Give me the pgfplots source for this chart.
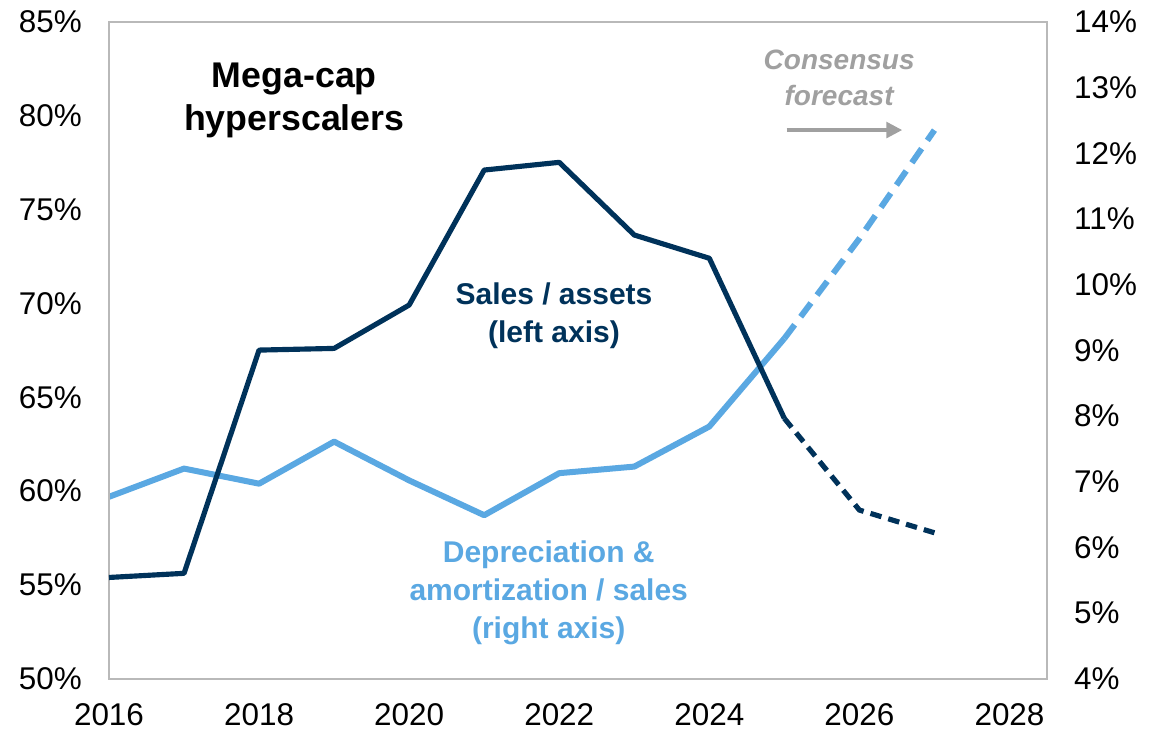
\documentclass[border=0pt]{standalone}
\usepackage{fontspec}
\setmainfont{Liberation Sans}
\usepackage{pgfplots}
\pgfplotsset{compat=1.18}
\usetikzlibrary{arrows.meta}
\definecolor{navy}{RGB}{0,50,90}
\definecolor{sky}{RGB}{90,168,226}
\definecolor{fcgray}{RGB}{160,160,160}
\definecolor{framegray}{RGB}{185,185,185}

\begin{document}
\begin{tikzpicture}
\pgfplotsset{
  base/.style={
    scale only axis, width=328.3pt, height=230pt,
    xmin=2016, xmax=2028.5,
    tick style={draw=none},
    tick label style={font=\fontsize{11}{12}\selectfont},
    /pgf/number format/assume math mode=true,
    /pgf/number format/1000 sep={},
  }
}
% D&A / sales, right axis
\begin{axis}[base, name=rt,
    axis x line=none, axis y line*=right,
    y axis line style={draw=none},
    ymin=4, ymax=14, ytick={4,5,...,14},
    yticklabel={\pgfmathprintnumber{\tick}\%},
    yticklabel style={xshift=6pt}]
\addplot[sky, line width=2.1pt, line join=round] coordinates {
  (2016,6.77) (2017,7.20) (2018,6.97) (2019,7.61) (2020,7.02)
  (2021,6.49) (2022,7.13) (2023,7.23) (2024,7.84) (2025,9.18)};
\addplot[sky, line width=2.1pt, dash pattern=on 6pt off 3.5pt] coordinates {
  (2025,9.18) (2026,10.70) (2027,12.35)};
\end{axis}
% sales / assets, left axis
\begin{axis}[base, name=main,
    axis line style={framegray, line width=0.7pt},
    ymin=50, ymax=85, ytick={50,55,...,85},
    xtick={2016,2018,...,2028},
    yticklabel={\pgfmathprintnumber{\tick}\%},
    yticklabel style={xshift=-6pt},
    xticklabel style={yshift=-5pt}]
\addplot[navy, line width=1.8pt, line join=round] coordinates {
  (2016,55.40) (2017,55.62) (2018,67.51) (2019,67.60) (2020,69.91)
  (2021,77.10) (2022,77.51) (2023,73.64) (2024,72.40) (2025,63.87)};
\addplot[navy, line width=1.8pt, dash pattern=on 4pt off 2.5pt] coordinates {
  (2025,63.87) (2026,58.99) (2027,57.78)};

\node[align=center, font=\fontsize{12.5}{15}\selectfont\bfseries] at (axis cs:2018.47,80.83) {Mega-cap\\hyperscalers};
\node[align=center, text=navy, font=\fontsize{10.5}{13.3}\selectfont\bfseries] at (axis cs:2021.93,69.32) {Sales / assets\\(left axis)};
\node[align=center, text=sky, font=\fontsize{10.5}{13.3}\selectfont\bfseries] at (axis cs:2021.86,54.58) {Depreciation \&\\amortization / sales\\(right axis)};
\node[align=center, text=fcgray, font=\fontsize{9.8}{12.4}\selectfont\bfseries\itshape] at (axis cs:2025.73,82.0) {Consensus\\forecast};
\draw[fcgray, line width=1.1pt, -{Triangle[length=5.5pt,width=5.5pt]}] (axis cs:2025.03,79.23) -- (axis cs:2026.57,79.23);
\end{axis}
\pgfresetboundingbox
\path ([shift={(-38.15pt,-19.25pt)}]main.south west) rectangle ([shift={(40.6pt,7.6pt)}]main.north east);
\end{tikzpicture}
\end{document}
